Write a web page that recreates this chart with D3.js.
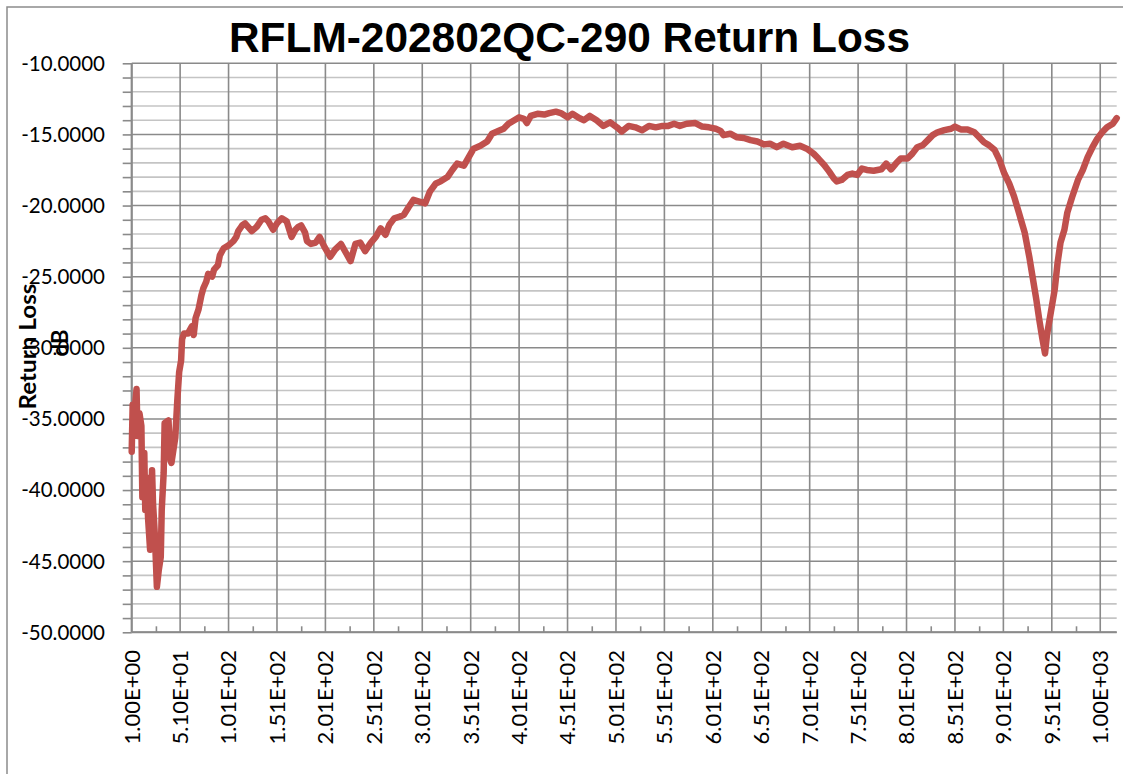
<!DOCTYPE html>
<html>
<head>
<meta charset="utf-8">
<script src="https://cdn.jsdelivr.net/npm/d3@7"></script>
<style>
  html, body { margin: 0; padding: 0; background: #fff; }
  svg { display: block; }
</style>
</head>
<body>
<svg id="chart" width="1123" height="774"></svg>
<script>
// ---- Data ----
const chartTitle = "RFLM-202802QC-290 Return Loss";
const yAxisTitle = "Return Loss";
const yAxisUnit = "dB";

// frequency index (category number) of each sampled point
const freq = [
  1, 2, 4, 6, 7, 9, 11, 12, 14, 15, 16, 18, 20, 22, 23, 25, 27, 29, 31, 32,
  34, 35, 39, 41, 42, 44, 46, 48, 50, 52, 53, 55, 59, 63, 65, 67, 70, 73, 75, 78,
  80, 84, 86, 90, 92, 96, 101, 106, 109, 111, 115, 118, 125, 130, 135, 139, 142, 147, 151, 156,
  161, 166, 170, 173, 176, 180, 182, 186, 191, 195, 200, 206, 211, 217, 222, 227, 232, 237, 242, 248,
  253, 258, 263, 267, 272, 277, 282, 287, 292, 297, 304, 309, 315, 320, 327, 332, 337, 344, 349, 354,
  361, 368, 373, 380, 385, 390, 396, 401, 406, 409, 413, 420, 427, 432, 439, 444, 451, 456, 463, 468,
  474, 481, 488, 495, 502, 507, 514, 521, 528, 535, 542, 549, 555, 561, 567, 574, 583, 590, 597, 604,
  609, 612, 619, 626, 633, 640, 647, 654, 660, 667, 674, 683, 691, 698, 705, 710, 716, 721, 726, 729,
  734, 740, 745, 750, 755, 760, 767, 775, 780, 785, 790, 795, 802, 807, 812, 818, 823, 828, 833, 840,
  847, 851, 857, 864, 871, 876, 881, 886, 892, 897, 902, 907, 912, 917, 923, 928, 931, 935, 938, 941,
  944, 946, 950, 954, 957, 960, 964, 967, 972, 978, 983, 988, 993, 998, 1003, 1008, 1014, 1018
];
// return loss (dB) at each sampled point
const returnLoss = [
  -37.3, -34.0, -34.4, -32.9, -36.2, -34.6, -35.5, -40.5, -37.4, -41.4, -39.1, -42.1, -44.2, -38.6, -40.9, -43.3, -46.8, -45.6, -44.7, -41.4,
  -38.8, -35.3, -35.1, -37.9, -38.1, -37.2, -36.3, -33.8, -31.7, -30.9, -29.4, -29.0, -29.0, -28.5, -29.1, -27.9, -27.3, -26.3, -25.8, -25.35,
  -24.8, -25.0, -24.5, -24.2, -23.5, -23.0, -22.8, -22.5, -22.2, -21.8, -21.4, -21.25, -21.8, -21.5, -21.0, -20.9, -21.1, -21.7, -21.25, -20.9,
  -21.1, -22.2, -21.7, -21.5, -21.4, -21.9, -22.5, -22.7, -22.6, -22.2, -22.9, -23.6, -23.1, -22.7, -23.3, -23.9, -22.7, -22.6, -23.2, -22.6,
  -22.2, -21.6, -22.05, -21.35, -20.9, -20.8, -20.65, -20.1, -19.6, -19.7, -19.85, -19.0, -18.45, -18.3, -18.0, -17.5, -17.05, -17.2, -16.6, -16.0,
  -15.8, -15.5, -14.95, -14.75, -14.6, -14.25, -14.0, -13.8, -13.9, -14.2, -13.7, -13.55, -13.6, -13.5, -13.4, -13.5, -13.8, -13.55, -13.85, -14.0,
  -13.7, -14.0, -14.4, -14.15, -14.5, -14.8, -14.4, -14.5, -14.7, -14.4, -14.5, -14.4, -14.4, -14.25, -14.4, -14.25, -14.2, -14.45, -14.5, -14.6,
  -14.75, -15.05, -14.95, -15.2, -15.25, -15.4, -15.5, -15.7, -15.65, -15.9, -15.65, -15.9, -15.8, -16.0, -16.35, -16.7, -17.15, -17.6, -18.1, -18.3,
  -18.2, -17.85, -17.75, -17.85, -17.4, -17.5, -17.55, -17.45, -17.05, -17.45, -17.05, -16.7, -16.7, -16.35, -15.9, -15.75, -15.4, -15.05, -14.85, -14.7,
  -14.6, -14.45, -14.65, -14.65, -14.85, -15.2, -15.55, -15.75, -16.1, -16.8, -17.75, -18.45, -19.35, -20.5, -21.9, -23.7, -24.95, -26.6, -28.0, -29.25,
  -30.4, -29.1, -27.5, -25.9, -24.0, -22.6, -21.7, -20.5, -19.4, -18.2, -17.5, -16.6, -15.9, -15.3, -14.85, -14.5, -14.25, -13.85
];

const xDomain = [1, 1018];
const xMajorTicks = [1, 51, 101, 151, 201, 251, 301, 351, 401, 451, 501, 551, 601, 651, 701, 751, 801, 851, 901, 951, 1001];
const xTickLabels = ["1.00E+00", "5.10E+01", "1.01E+02", "1.51E+02", "2.01E+02", "2.51E+02", "3.01E+02", "3.51E+02", "4.01E+02", "4.51E+02", "5.01E+02",
  "5.51E+02", "6.01E+02", "6.51E+02", "7.01E+02", "7.51E+02", "8.01E+02", "8.51E+02", "9.01E+02", "9.51E+02", "1.00E+03"];
const xMinorTicks = [26, 76, 126, 176, 226, 276, 326, 376, 426, 476, 526, 576, 626, 676, 726, 776, 826, 876, 926, 976];
const yDomain = [-50, -10];
const yMajorTicks = [-50, -45, -40, -35, -30, -25, -20, -15, -10];
const yTickLabels = ["-50.0000", "-45.0000", "-40.0000", "-35.0000", "-30.0000", "-25.0000", "-20.0000", "-15.0000", "-10.0000"];
const yMinorTicks = d3.range(-50, -9, 1);

// ---- Layout ----
const svg = d3.select("#chart");
const plot = { left: 131.7, right: 1116.7, top: 63.3, bottom: 632.3 };
const x = d3.scaleLinear().domain(xDomain).range([plot.left, plot.right]);
const y = d3.scaleLinear().domain(yDomain).range([plot.bottom, plot.top]);

const majorGrid = "#8a8a8a", minorGrid = "#c4c4c4";
const tickFont = "Lato, 'Open Sans', sans-serif";

// chart border
svg.append("rect").attr("x", 7).attr("y", 7).attr("width", 1300).attr("height", 900)
  .attr("fill", "none").attr("stroke", "#8c8c8c").attr("stroke-width", 1.5);

// minor horizontal gridlines
svg.append("g").selectAll("line").data(yMinorTicks.filter(v => v % 5 !== 0)).join("line")
  .attr("x1", plot.left).attr("x2", plot.right)
  .attr("y1", d => y(d)).attr("y2", d => y(d))
  .attr("stroke", minorGrid).attr("stroke-width", 1.6);

// major horizontal gridlines
svg.append("g").selectAll("line").data(yMajorTicks).join("line")
  .attr("x1", plot.left).attr("x2", plot.right)
  .attr("y1", d => y(d)).attr("y2", d => y(d))
  .attr("stroke", majorGrid).attr("stroke-width", 1.6);

// vertical gridlines
svg.append("g").selectAll("line").data(xMajorTicks).join("line")
  .attr("x1", d => x(d)).attr("x2", d => x(d))
  .attr("y1", plot.top).attr("y2", plot.bottom)
  .attr("stroke", majorGrid).attr("stroke-width", 1.6);

// y axis (ticks outside, major + minor)
const yAxis = d3.axisLeft(y).tickValues(yMinorTicks).tickSize(9).tickFormat("");
const gy = svg.append("g").attr("transform", `translate(${plot.left},0)`).call(yAxis);
gy.select(".domain").attr("stroke", majorGrid).attr("stroke-width", 2).attr("d", `M0,${plot.top}V${plot.bottom}`);
gy.selectAll(".tick line").attr("stroke", majorGrid).attr("stroke-width", 1.6);

// y tick labels
svg.append("g").selectAll("text").data(yMajorTicks).join("text")
  .attr("x", 105).attr("y", d => y(d)).attr("dy", "0.36em")
  .attr("text-anchor", "end")
  .attr("font-family", tickFont).attr("font-size", 20.5).attr("fill", "#000")
  .text((d, i) => yTickLabels[i]);

// x axis (minor ticks inside)
const xAxis = d3.axisBottom(x).tickValues(xMinorTicks).tickSize(-6).tickFormat("");
const gx = svg.append("g").attr("transform", `translate(0,${plot.bottom})`).call(xAxis);
gx.select(".domain").attr("stroke", majorGrid).attr("stroke-width", 2).attr("d", `M${plot.left},0H${plot.right}`);
gx.selectAll(".tick line").attr("stroke", majorGrid).attr("stroke-width", 1.6);

// x tick labels (rotated)
svg.append("g").selectAll("text").data(xMajorTicks).join("text")
  .attr("transform", d => `translate(${x(d)},650) rotate(-90)`)
  .attr("dy", "0.36em")
  .attr("text-anchor", "end")
  .attr("font-family", tickFont).attr("font-size", 22).attr("fill", "#000")
  .text((d, i) => xTickLabels[i]);

// data line
const pts = freq.map((f, i) => [f, returnLoss[i]]);
svg.append("path").datum(pts)
  .attr("fill", "none").attr("stroke", "#C0504D").attr("stroke-width", 6.5)
  .attr("stroke-linejoin", "round").attr("stroke-linecap", "round")
  .attr("d", d3.line().x(d => x(d[0])).y(d => y(d[1])));

// title
svg.append("text")
  .attr("x", 229).attr("y", 52)
  .attr("font-family", "'Liberation Sans', Arial, sans-serif").attr("font-weight", "bold")
  .attr("font-size", 43).attr("textLength", 681).attr("lengthAdjust", "spacingAndGlyphs")
  .attr("fill", "#000").text(chartTitle);

// y axis titles (overlapping, as in the reference)
svg.append("text")
  .attr("transform", "translate(36,346.5) rotate(-90)")
  .attr("text-anchor", "middle")
  .attr("font-family", tickFont).attr("font-weight", "bold").attr("font-size", 22)
  .attr("textLength", 126).attr("lengthAdjust", "spacingAndGlyphs")
  .attr("fill", "#000").text(yAxisTitle);
svg.append("text")
  .attr("transform", "translate(68,343) rotate(-90)")
  .attr("text-anchor", "middle")
  .attr("font-family", tickFont).attr("font-weight", "bold").attr("font-size", 22)
  .attr("fill", "#000").text(yAxisUnit);
</script>
</body>
</html>
